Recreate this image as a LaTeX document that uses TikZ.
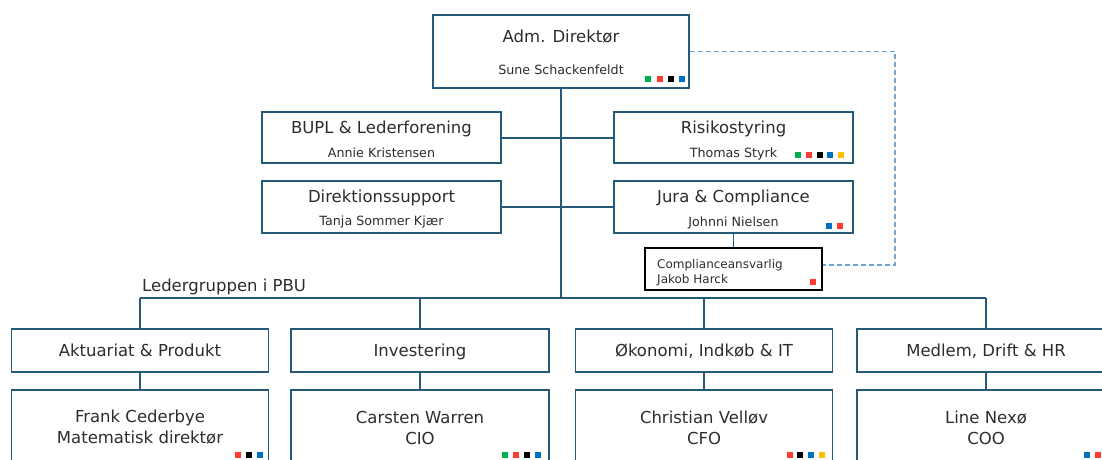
\documentclass[tikz,border=0pt]{standalone}
\usepackage{fontspec}
\setmainfont{DejaVu Sans}
\definecolor{bdr}{RGB}{38,88,122}
\definecolor{txt}{RGB}{45,45,45}
\definecolor{dash}{RGB}{110,165,210}
\definecolor{cg}{RGB}{0,176,80}
\definecolor{cr}{RGB}{255,59,48}
\definecolor{ck}{RGB}{0,0,0}
\definecolor{cb}{RGB}{0,112,192}
\definecolor{cy}{RGB}{255,192,0}
\tikzset{
  box/.style={draw=bdr, line width=1.8pt, fill=white, inner sep=0pt},
  cbox/.style={draw=black, line width=1.6pt, fill=white, inner sep=0pt},
  link/.style={draw=bdr, line width=1.8pt},
  dlink/.style={draw=dash, line width=1.2pt, dash pattern=on 5pt off 3pt},
  tA/.style={text=txt, font=\fontsize{16.5}{21}\selectfont, inner sep=0pt, text height=0.72em, text depth=0.2em},
  tB/.style={text=txt, font=\fontsize{12.7}{15}\selectfont, inner sep=0pt, text height=0.72em, text depth=0.2em},
  tL/.style={text=txt, font=\fontsize{16.5}{21}\selectfont, inner sep=0pt, align=center},
}
\newcommand{\sqr}[3]{\fill[#1] (#2-3,#3-3) rectangle (#2+3,#3+3);}
\begin{document}
\begin{tikzpicture}[x=1pt,y=-1pt]
\useasboundingbox (0,0) rectangle (1102,459);
\clip (0,0) rectangle (1102,459);
% boxes
\node[box, minimum width=256pt, minimum height=73pt] (adm) at (561,51.5) {};
\node[box, minimum width=239pt, minimum height=51pt] (bupl) at (381.5,137.5) {};
\node[box, minimum width=239pt, minimum height=51pt] (risk) at (733.5,137.5) {};
\node[box, minimum width=239pt, minimum height=52pt] (dir) at (381.5,207) {};
\node[box, minimum width=239pt, minimum height=52pt] (jura) at (733.5,207) {};
\node[cbox, minimum width=177pt, minimum height=42pt] (comp) at (733.5,269) {};
\coordinate (spineTop) at (adm.south);
\coordinate (bupJ) at (561,138);
\coordinate (dirJ) at (561,207);
\coordinate (busC) at (561,298);
\coordinate (busL) at (140,298);
\coordinate (busM1) at (420,298);
\coordinate (busM2) at (704,298);
\coordinate (busR) at (986,298);
\node[box, minimum width=257pt, minimum height=43pt] (akt) at (140,350.5) {};
\node[box, minimum width=258pt, minimum height=43pt] (inv) at (420,350.5) {};
\node[box, minimum width=257pt, minimum height=43pt] (oko) at (704,350.5) {};
\node[box, minimum width=258pt, minimum height=43pt] (med) at (986,350.5) {};
\node[box, minimum width=257pt, minimum height=100pt] (frank) at (140,440) {};
\node[box, minimum width=258pt, minimum height=100pt] (cars) at (420,440) {};
\node[box, minimum width=257pt, minimum height=100pt] (chri) at (704,440) {};
\node[box, minimum width=258pt, minimum height=100pt] (line) at (986,440) {};
% connectors
\draw[link] (spineTop) -- (busC);
\draw[link] (bupl.east |- bupJ) -- (bupJ) -- (risk.west |- bupJ);
\draw[link] (dir.east) -- (dirJ) -- (jura.west);
\draw[link] (jura.south) -- (comp.north);
\draw[link] (busL) -- (busR);
\draw[link] (busL) -- (akt.north);
\draw[link] (busM1) -- (inv.north);
\draw[link] (busM2) -- (oko.north);
\draw[link] (busR) -- (med.north);
\draw[link] (akt.south) -- (frank.north);
\draw[link] (inv.south) -- (cars.north);
\draw[link] (oko.south) -- (chri.north);
\draw[link] (med.south) -- (line.north);
\coordinate (dA) at (895,51.5);
\coordinate (dB) at (895,265);
\draw[dlink] (adm.east) -- (dA) -- (dB) -- (comp.east |- dB);
% texts
\node[tA] (admT) at (561,40) {Adm. Direktør};
\node[tB] (admN) at (561,72) {Sune Schackenfeldt};
\node[tA] (buplT) at (381.5,131) {BUPL \& Lederforening};
\node[tB] (buplN) at (381.5,155) {Annie Kristensen};
\node[tA] (riskT) at (733.5,131) {Risikostyring};
\node[tB] (riskN) at (733.5,155) {Thomas Styrk};
\node[tA] (dirT) at (381.5,200) {Direktionssupport};
\node[tB] (dirN) at (381.5,223) {Tanja Sommer Kjær};
\node[tA] (juraT) at (733.5,200) {Jura \& Compliance};
\node[tB] (juraN) at (733.5,224) {Johnni Nielsen};
\node[text=txt, inner sep=0pt, anchor=north west, align=left, font=\fontsize{12}{15.5}\selectfont] (compT) at (657,259) {Complianceansvarlig\\Jakob Harck};
\node[tA, anchor=west] (ledL) at (142,289) {Ledergruppen i PBU};
\node[tA] (aktT) at (140,354) {Aktuariat \& Produkt};
\node[tA] (invT) at (420,354) {Investering};
\node[tA] (okoT) at (704,354) {Økonomi, Indkøb \& IT};
\node[tA] (medT) at (986,354) {Medlem, Drift \& HR};
\node[tL] (frankT) at (140,427.5) {Frank Cederbye\\Matematisk direktør};
\node[tL] (carsT) at (420,427.5) {Carsten Warren\\CIO};
\node[tL] (chriT) at (704,427.5) {Christian Velløv\\CFO};
\node[tL] (lineT) at (986,427.5) {Line Nexø\\COO};
% colour markers
\sqr{cg}{648}{79}\sqr{cr}{660}{79}\sqr{ck}{671}{79}\sqr{cb}{682}{79}
\sqr{cg}{798}{155}\sqr{cr}{809}{155}\sqr{ck}{820}{155}\sqr{cb}{830}{155}\sqr{cy}{841}{155}
\sqr{cb}{829}{226}\sqr{cr}{840}{226}
\sqr{cr}{813}{282}
\sqr{cr}{238}{455}\sqr{ck}{249}{455}\sqr{cb}{260}{455}
\sqr{cg}{505}{455}\sqr{cr}{516}{455}\sqr{ck}{527}{455}\sqr{cb}{538}{455}
\sqr{cr}{790}{455}\sqr{ck}{800}{455}\sqr{cb}{811}{455}\sqr{cy}{822}{455}
\sqr{cb}{1087}{455}\sqr{cr}{1098}{455}
\end{tikzpicture}
\end{document}
